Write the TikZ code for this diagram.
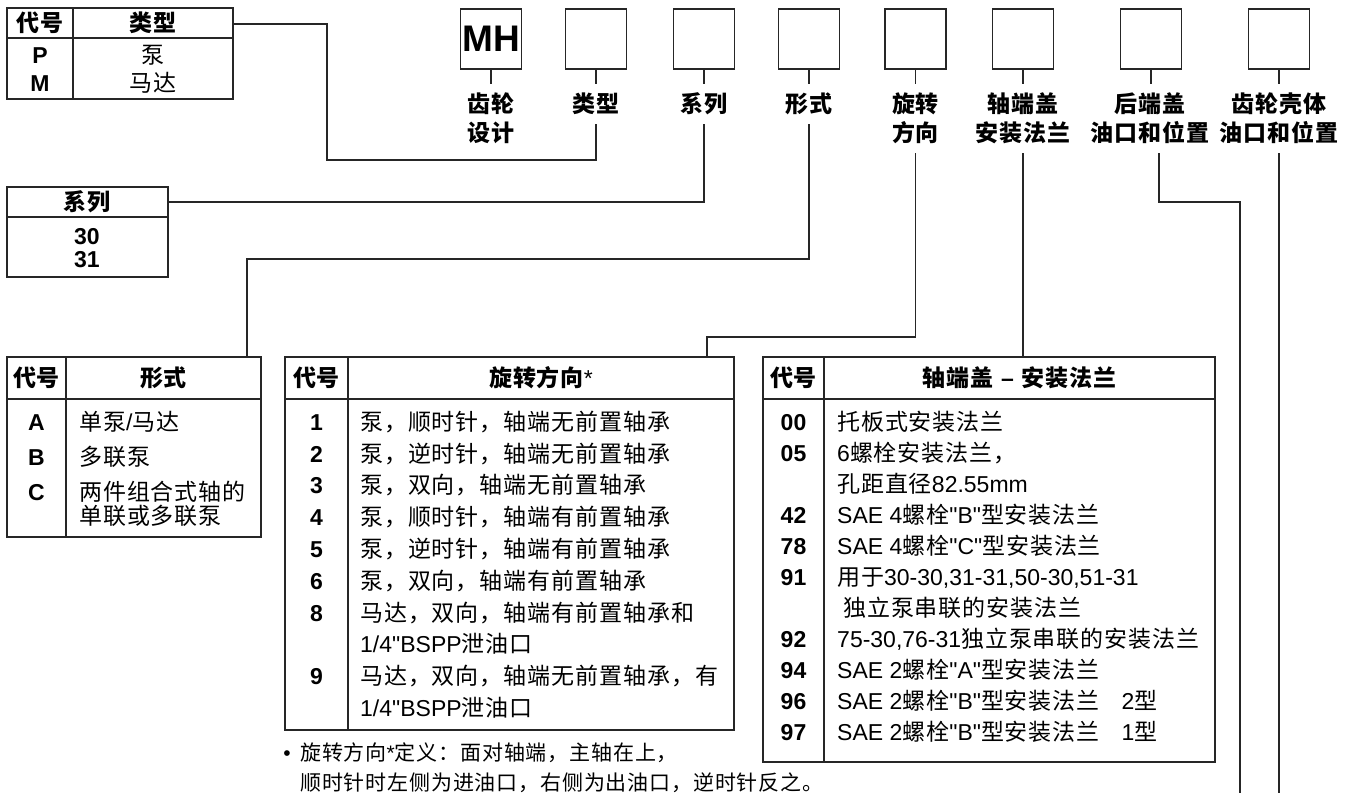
\documentclass[tikz,border=0pt]{standalone}
\usepackage{fontspec}
\newfontfamily\lat{Liberation Sans}
\newfontfamily\cj{Noto Sans CJK SC}
\XeTeXinterchartokenstate=1
\chardef\cjcls=250
\newcount\cjc
\def\setcls#1#2{\cjc=#1\relax\loop\XeTeXcharclass\cjc=\cjcls\relax\advance\cjc by 1\relax\ifnum\cjc<#2\relax\repeat}
\setcls{"4E00}{"A000}
\setcls{"3000}{"3040}
\setcls{"FF00}{"FFF0}
\XeTeXinterchartoks 0 \cjcls = {\cj}
\XeTeXinterchartoks 4095 \cjcls = {\cj}
\XeTeXinterchartoks \cjcls 0 = {\lat}
\XeTeXinterchartoks \cjcls 4095 = {\lat}
\XeTeXinterchartoks \cjcls \cjcls = {\kern.04em\relax}
\begin{document}
\begin{tikzpicture}[x=1pt,y=-1pt,
  ln/.style={line width=1.3pt,draw=black!85},
  cbox/.style={draw=black!85,line width=1.3pt,minimum width=61pt,minimum height=60pt,inner sep=0pt,font=\fontsize{37}{37}\selectfont\lat\bfseries},
  lbl/.style={font=\fontsize{23}{29}\selectfont\lat\bfseries,align=center,inner sep=0pt,outer sep=0pt,anchor=north},
  tbl/.style={draw=black!85,line width=1.3pt,inner sep=0pt,outer sep=0pt,anchor=north west},
  cell/.style={font=\fontsize{23}{26}\selectfont\lat,inner sep=0pt,text height=17.5pt,text depth=1pt},
  code/.style={cell,font=\fontsize{23}{26}\selectfont\lat\bfseries},
  desc/.style={cell,anchor=west},
  foot/.style={font=\fontsize{21}{24}\selectfont\lat,inner sep=0pt,text height=16pt,text depth=1pt},
]
\useasboundingbox (0,0) rectangle (1351,793);

% ---- code boxes ----
\node[cbox] (b1) at (491,39) {MH};
\node[cbox] (b2) at (596,39) {};
\node[cbox] (b3) at (704,39) {};
\node[cbox] (b4) at (809,39) {};
\node[cbox] (b5) at (915.5,39) {};
\node[cbox] (b6) at (1023,39) {};
\node[cbox] (b7) at (1151,39) {};
\node[cbox] (b8) at (1279,39) {};

% ---- labels ----
\node[lbl,minimum height=69pt] (l1) at (491,84) {齿轮\\设计};
\node[lbl,minimum height=40pt] (l2) at (596,84) {类型};
\node[lbl,minimum height=40pt] (l3) at (704,84) {系列};
\node[lbl,minimum height=40pt] (l4) at (809,84) {形式};
\node[lbl,minimum height=69pt] (l5) at (915.5,84) {旋转\\方向};
\node[lbl,minimum height=69pt] (l6) at (1023,84) {轴端盖\\安装法兰};
\node[lbl,minimum height=69pt] (l7) at (1150,84) {后端盖\\油口和位置};
\node[lbl,minimum height=69pt] (l8) at (1279,84) {齿轮壳体\\油口和位置};

\foreach \i in {1,...,8} \draw[ln] (b\i.south) -- (b\i.south |- l\i.north);

% ---- tables ----
\node[tbl,minimum width=226pt,minimum height=91pt] (tt) at (7,8) {};
\draw[ln] ([yshift=-30pt]tt.north west) -- ([yshift=-30pt]tt.north east);
\draw[ln] ([xshift=66pt]tt.north west) -- ([xshift=66pt]tt.south west);
\node[code] (tth1) at (40,23) {代号};
\node[code] (tth2) at (153,23) {类型};
\node[code] (ttc1) at (40,55) {P};
\node[cell] (ttd1) at (153,55) {泵};
\node[code] (ttc2) at (40,83) {M};
\node[cell] (ttd2) at (153,83) {马达};

\node[tbl,minimum width=161pt,minimum height=90pt] (ts) at (7,187) {};
\draw[ln] ([yshift=-30pt]ts.north west) -- ([yshift=-30pt]ts.north east);
\node[code] (tsh) at (87,202) {系列};
\node[code] (ts1) at (87,236) {30};
\node[code] (ts2) at (87,259) {31};

\node[tbl,minimum width=254pt,minimum height=180pt] (tf) at (7,357) {};
\draw[ln] ([yshift=-42pt]tf.north west) -- ([yshift=-42pt]tf.north east);
\draw[ln] ([xshift=59pt]tf.north west) -- ([xshift=59pt]tf.south west);
\node[code] (tfh1) at (36.5,378) {代号};
\node[code] (tfh2) at (163.5,378) {形式};
\node[code] (tfc1) at (36.5,422) {A};
\node[desc] (tfd1) at (79,422) {单泵/马达};
\node[code] (tfc2) at (36.5,457) {B};
\node[desc] (tfd2) at (79,457) {多联泵};
\node[code] (tfc3) at (36.5,492) {C};
\node[desc] (tfd3) at (79,492) {两件组合式轴的};
\node[desc] (tfd3b) at (79,516) {单联或多联泵};

\node[tbl,minimum width=449pt,minimum height=373pt] (tr) at (285,357) {};
\draw[ln] ([yshift=-42pt]tr.north west) -- ([yshift=-42pt]tr.north east);
\draw[ln] ([xshift=63pt]tr.north west) -- ([xshift=63pt]tr.south west);
\node[code] (trh1) at (316.5,378) {代号};
\node[code] (trh2) at (541,378) {旋转方向{\mdseries *}};
\node[code] (trc1) at (316.5,422) {1};
\node[desc] (trd1) at (360,422) {泵，顺时针，轴端无前置轴承};
\node[code] (trc2) at (316.5,453.8) {2};
\node[desc] (trd2) at (360,453.8) {泵，逆时针，轴端无前置轴承};
\node[code] (trc3) at (316.5,485.6) {3};
\node[desc] (trd3) at (360,485.6) {泵，双向，轴端无前置轴承};
\node[code] (trc4) at (316.5,517.4) {4};
\node[desc] (trd4) at (360,517.4) {泵，顺时针，轴端有前置轴承};
\node[code] (trc5) at (316.5,549.2) {5};
\node[desc] (trd5) at (360,549.2) {泵，逆时针，轴端有前置轴承};
\node[code] (trc6) at (316.5,581) {6};
\node[desc] (trd6) at (360,581) {泵，双向，轴端有前置轴承};
\node[code] (trc8) at (316.5,612.8) {8};
\node[desc] (trd8) at (360,612.8) {马达，双向，轴端有前置轴承和};
\node[desc] (trd8b) at (360,644.6) {1/4"BSPP泄油口};
\node[code] (trc9) at (316.5,676.4) {9};
\node[desc] (trd9) at (360,676.4) {马达，双向，轴端无前置轴承，有};
\node[desc] (trd9b) at (360,708.2) {1/4"BSPP泄油口};

\node[tbl,minimum width=452pt,minimum height=405pt] (tfl) at (763,357) {};
\draw[ln] ([yshift=-42pt]tfl.north west) -- ([yshift=-42pt]tfl.north east);
\draw[ln] ([xshift=61pt]tfl.north west) -- ([xshift=61pt]tfl.south west);
\node[code] (tlh1) at (793.5,378) {代号};
\node[code] (tlh2) at (1019.5,378) {轴端盖\hspace{8pt}–\hspace{8pt}安装法兰};
\node[code] (tlc1) at (793.5,422) {00};
\node[desc] (tld1) at (837,422) {托板式安装法兰};
\node[code] (tlc2) at (793.5,453) {05};
\node[desc] (tld2) at (837,453) {6螺栓安装法兰，};
\node[desc] (tld2b) at (837,484) {孔距直径82.55mm};
\node[code] (tlc3) at (793.5,515) {42};
\node[desc] (tld3) at (837,515) {SAE 4螺栓"B"型安装法兰};
\node[code] (tlc4) at (793.5,546) {78};
\node[desc] (tld4) at (837,546) {SAE 4螺栓"C"型安装法兰};
\node[code] (tlc5) at (793.5,577) {91};
\node[desc] (tld5) at (837,577) {用于30-30,31-31,50-30,51-31};
\node[desc] (tld5b) at (837,608) {\hspace{6pt}独立泵串联的安装法兰};
\node[code] (tlc6) at (793.5,639) {92};
\node[desc] (tld6) at (837,639) {75-30,76-31独立泵串联的安装法兰};
\node[code] (tlc7) at (793.5,670) {94};
\node[desc] (tld7) at (837,670) {SAE 2螺栓"A"型安装法兰};
\node[code] (tlc8) at (793.5,701) {96};
\node[desc] (tld8) at (837,701) {SAE 2螺栓"B"型安装法兰\hspace{22pt}2型};
\node[code] (tlc9) at (793.5,732) {97};
\node[desc] (tld9) at (837,732) {SAE 2螺栓"B"型安装法兰\hspace{22pt}1型};

% ---- footnote ----
\node[foot] (fb) at (287,753) {•};
\node[foot,anchor=west] (f1) at (300,753) {旋转方向*定义：面对轴端，主轴在上，};
\node[foot,anchor=west] (f2) at (300,783) {顺时针时左侧为进油口，右侧为出油口，逆时针反之。};

% ---- connectors ----
\coordinate (k2) at (327,160);
\draw[ln] (l2.south) |- (k2) |- ([yshift=-16pt]tt.north east);
\draw[ln] (l3.south) |- ([yshift=-15pt]ts.north east);
\coordinate (k4) at (247,259);
\draw[ln] (l4.south) |- (k4) -- (k4 |- tf.north);
\coordinate (k5) at (707,337);
\draw[ln] (l5.south) |- (k5) -- (k5 |- tr.north);
\draw[ln] (l6.south) -- (l6.south |- tfl.north);
\coordinate (k7) at (1240,202);
\coordinate (e7) at (1240,793);
\draw[ln] ([xshift=9pt]l7.south) |- (k7) -- (e7);
\coordinate (e8) at (1279,793);
\draw[ln] (l8.south) -- (l8.south |- e8);
\end{tikzpicture}
\end{document}
